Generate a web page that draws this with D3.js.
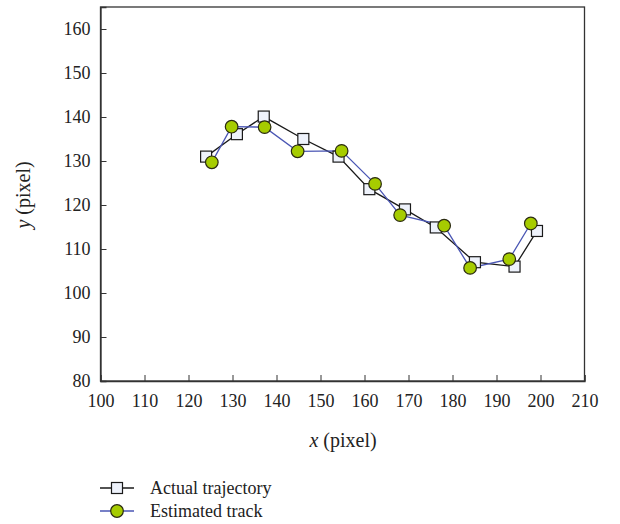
<!DOCTYPE html>
<html><head><meta charset="utf-8">
<script src="https://cdn.jsdelivr.net/npm/d3@7"></script>
<style>body{margin:0;background:#fff}svg{display:block}text{font-family:"Liberation Serif","DejaVu Serif",serif;fill:#222}</style>
</head><body>
<script>
const actualX = [124, 131, 137.1, 146.1, 154.1, 161.1, 169.2, 176.2, 185.1, 194.1, 199.2];
const actualY = [131, 136.1, 140.1, 135, 131, 123.6, 119, 114.9, 107, 106, 114.1];
const estX = [125.3, 129.8, 137.3, 144.8, 154.8, 162.4, 168.1, 178.1, 184.0, 192.9, 197.8];
const estY = [129.7, 137.8, 137.7, 132.2, 132.3, 124.8, 117.7, 115.3, 105.7, 107.7, 115.8];
const xTicks = [100,110,120,130,140,150,160,170,180,190,200,210];
const yTicks = [80,90,100,110,120,130,140,150,160];
const seriesNames = ["Actual trajectory", "Estimated track"];

const W = 620, H = 524;
const svg = d3.select("body").append("svg").attr("width", W).attr("height", H);
const x = d3.scaleLinear().domain([100, 210]).range([100.5, 584.5]);
const y = d3.scaleLinear().domain([80, 165]).range([381, 7]);

const frameColor = "#333";
svg.append("rect").attr("x", x(100)).attr("y", y(165)).attr("width", x(210)-x(100)).attr("height", y(80)-y(165))
  .attr("fill", "none").attr("stroke", frameColor).attr("stroke-width", 1.3);

const xAxis = svg.append("g").attr("transform", `translate(0,${y(80)})`)
  .call(d3.axisBottom(x).tickValues(xTicks).tickSize(-6).tickPadding(10).tickFormat(d3.format("d")));
const yAxis = svg.append("g").attr("transform", `translate(${x(100)},0)`)
  .call(d3.axisLeft(y).tickValues(yTicks).tickSize(-6).tickPadding(10).tickFormat(d3.format("d")));
[xAxis, yAxis].forEach(g => {
  g.select(".domain").attr("stroke", frameColor).attr("stroke-width", 1.3);
  g.selectAll(".tick line").attr("stroke", frameColor).attr("stroke-width", 1);
  g.selectAll(".tick text").attr("font-size", 18).attr("font-family", "Liberation Serif, serif").attr("fill", "#222");
});
xAxis.selectAll(".tick text").attr("dy", "0.9em");

// axis titles
const xt = svg.append("text").attr("x", 343).attr("y", 447).attr("text-anchor", "middle").attr("font-size", 20);
xt.append("tspan").attr("font-style", "italic").text("x");
xt.append("tspan").text(" (pixel)");
const yt = svg.append("text").attr("transform", "translate(30,195) rotate(-90)").attr("text-anchor", "middle").attr("font-size", 20);
yt.append("tspan").attr("font-style", "italic").text("y");
yt.append("tspan").text(" (pixel)");

const actual = actualX.map((v, i) => [v, actualY[i]]);
const est = estX.map((v, i) => [v, estY[i]]);
const line = d3.line().x(d => x(d[0])).y(d => y(d[1]));

svg.append("path").datum(actual).attr("d", line).attr("fill", "none").attr("stroke", "#1a1a1a").attr("stroke-width", 1.3);
svg.append("path").datum(est).attr("d", line).attr("fill", "none").attr("stroke", "#4a56b4").attr("stroke-width", 1.3);

const sq = 11;
svg.selectAll("rect.sq").data(actual).enter().append("rect").attr("class", "sq")
  .attr("x", d => x(d[0]) - sq/2).attr("y", d => y(d[1]) - sq/2).attr("width", sq).attr("height", sq)
  .attr("fill", "#eef2fb").attr("stroke", "#1a1a1a").attr("stroke-width", 1.2);
svg.selectAll("circle.c").data(est).enter().append("circle").attr("class", "c")
  .attr("cx", d => x(d[0])).attr("cy", d => y(d[1])).attr("r", 6.3)
  .attr("fill", "#a6cc00").attr("stroke", "#2a2a10").attr("stroke-width", 1.2);

// legend
const lg = svg.append("g");
const ly = [488, 511];
lg.append("line").attr("x1", 100).attr("x2", 134).attr("y1", ly[0]).attr("y2", ly[0]).attr("stroke", "#1a1a1a").attr("stroke-width", 1.3);
lg.append("rect").attr("x", 117 - sq/2).attr("y", ly[0] - sq/2).attr("width", sq).attr("height", sq)
  .attr("fill", "#eef2fb").attr("stroke", "#1a1a1a").attr("stroke-width", 1.2);
lg.append("line").attr("x1", 100).attr("x2", 134).attr("y1", ly[1]).attr("y2", ly[1]).attr("stroke", "#4a56b4").attr("stroke-width", 1.3);
lg.append("circle").attr("cx", 117).attr("cy", ly[1]).attr("r", 6.3)
  .attr("fill", "#a6cc00").attr("stroke", "#2a2a10").attr("stroke-width", 1.2);
seriesNames.forEach((n, i) => {
  lg.append("text").attr("x", 150).attr("y", ly[i]).attr("dy", "0.33em").attr("font-size", 18).text(n);
});
</script>
</body></html>
